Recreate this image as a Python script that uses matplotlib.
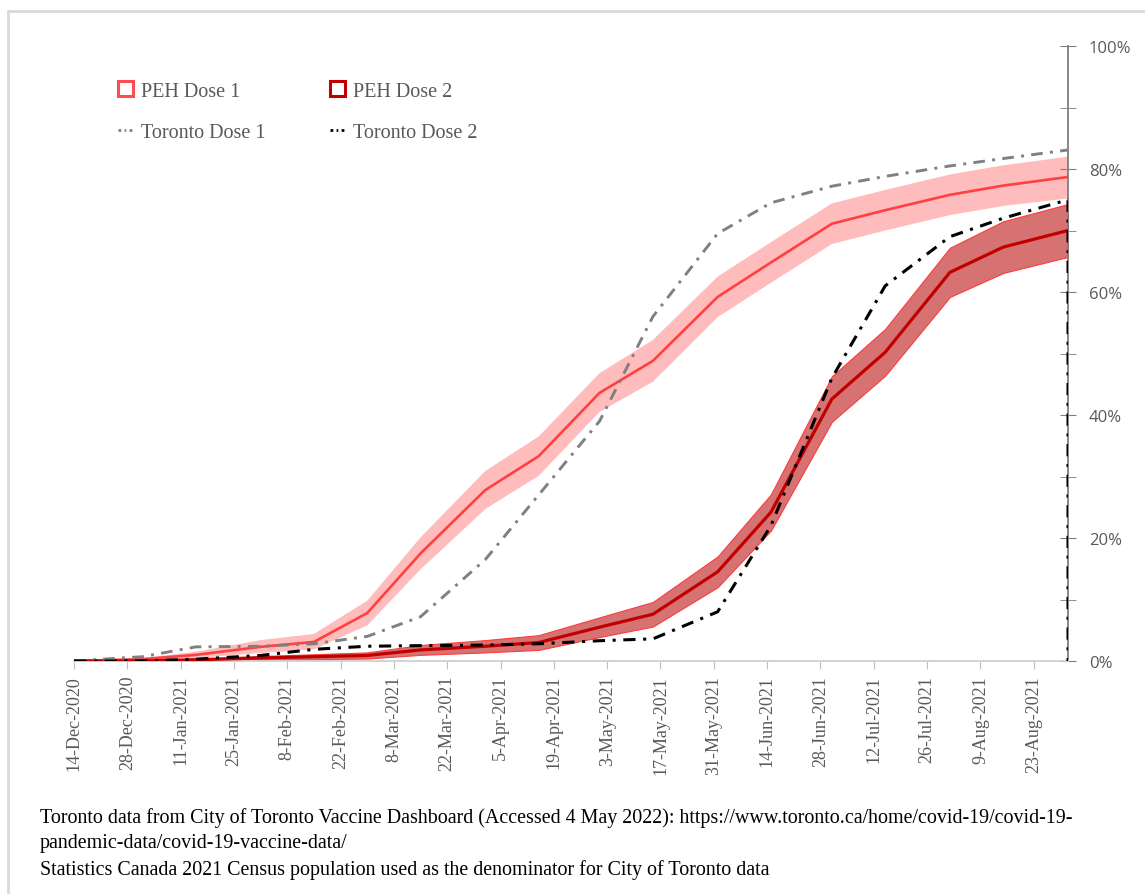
import matplotlib.pyplot as plt
import numpy as np
import pandas as pd
from matplotlib.patches import Patch, Rectangle
from matplotlib.lines import Line2D

# semi-monthly data points
dates = pd.to_datetime(['2020-12-14', '2021-01-01', '2021-01-15', '2021-02-01', '2021-02-15',
                        '2021-03-01', '2021-03-15', '2021-04-01', '2021-04-15', '2021-05-01',
                        '2021-05-15', '2021-06-01', '2021-06-15', '2021-07-01', '2021-07-15',
                        '2021-08-01', '2021-08-15', '2021-09-01'])

peh1 = [0, 0.3, 1.0, 2.3, 3.1, 7.8, 17.5, 27.8, 33.3, 43.6, 48.8, 59.2, 64.8, 71.1, 73.3, 75.8, 77.3, 78.7]
peh1_lo = [0, 0.1, 0.5, 1.3, 1.9, 5.8, 14.9, 24.7, 30.1, 40.5, 45.4, 55.9, 61.5, 67.8, 70.0, 72.5, 74.0, 75.2]
peh1_hi = [0, 0.5, 1.5, 3.4, 4.4, 9.8, 20.1, 30.9, 36.5, 46.8, 52.2, 62.5, 68.1, 74.4, 76.6, 79.1, 80.6, 82.0]

peh2 = [0, 0, 0.2, 0.5, 0.7, 0.9, 1.8, 2.4, 3.0, 5.5, 7.6, 14.5, 24.2, 42.6, 50.2, 63.2, 67.3, 70.0]
peh2_lo = [0, 0, 0, 0.2, 0.3, 0.4, 1.0, 1.4, 1.8, 3.9, 5.6, 12.0, 21.2, 38.9, 46.4, 59.2, 63.1, 65.7]
peh2_hi = [0, 0.1, 0.4, 0.8, 1.1, 1.4, 2.6, 3.4, 4.2, 7.1, 9.6, 17.0, 27.1, 46.3, 54.0, 67.2, 71.5, 74.3]

tor1 = [0, 0.7, 2.3, 2.4, 2.8, 4.0, 7.2, 16.5, 27.0, 39.0, 56.0, 69.5, 74.5, 77.2, 78.8, 80.5, 81.7, 83.1]
tor2 = [0, 0, 0.3, 0.9, 1.9, 2.4, 2.5, 2.6, 2.8, 3.3, 3.6, 8.0, 22.0, 46.0, 61.0, 69.0, 72.0, 75.0]

tick_dates = pd.date_range('2020-12-14', '2021-08-23', freq='14D')
tick_labels = [f"{d.day}-{d.strftime('%b-%Y')}" for d in tick_dates]

grey = '#595959'

fig = plt.figure(figsize=(11.45, 8.95), dpi=100)
ax = fig.add_axes([74 / 1145, 1 - 662 / 895, (1068 - 74) / 1145, (662 - 47) / 895])

ax.fill_between(dates, peh1_lo, peh1_hi, facecolor='#ffbcbc', edgecolor='none', zorder=1)
ax.plot(dates, peh1, color='#ff4040', linewidth=1.9, zorder=3)

ax.fill_between(dates, peh2_lo, peh2_hi, facecolor='#d77272', edgecolor='#ff3b3b', linewidth=0.8, zorder=2)
ax.plot(dates, peh2, color='#c00000', linewidth=2.3, zorder=4)

ax.plot(dates, tor1, color='#808080', linewidth=2.1, linestyle=(0, (4, 2.5, 1, 2.5)), zorder=5)
# Toronto dose 2 series ends with a drop to zero at the last date
ax.plot(list(dates) + [dates[-1]], tor2 + [0], color='black', linewidth=2.2,
        linestyle=(0, (4, 2.5, 1, 2.5)), zorder=5)

ax.set_xlim(dates[0], dates[-1])
ax.set_ylim(0, 100)

ax.set_xticks(tick_dates)
ax.set_xticklabels(tick_labels, rotation=90, family='Liberation Serif', fontsize=13, color=grey)
ax.tick_params(axis='x', direction='out', length=6, color='#bfbfbf', pad=4)

ax.yaxis.tick_right()
ax.set_yticks(np.arange(0, 101, 20))
ax.set_yticks(np.arange(10, 100, 20), minor=True)
ax.set_yticklabels([f'{v}%' for v in range(0, 101, 20)], family='Open Sans', fontsize=12, color=grey)
ax.tick_params(axis='y', which='both', direction='inout', length=12, color='#7f7f7f', pad=9)

for s in ['top', 'left']:
    ax.spines[s].set_visible(False)
ax.spines['right'].set_color('#7f7f7f')
ax.spines['right'].set_linewidth(1.3)
ax.spines['bottom'].set_color('#d0d0d0')
ax.spines['bottom'].set_linewidth(1.3)

handles = [Patch(facecolor='white', edgecolor='#ff4d4d', linewidth=2.2),
           Line2D([0], [0], color='#808080', linewidth=2, linestyle=(0, (1, 1.2, 0.6, 1.2))),
           Patch(facecolor='white', edgecolor='#c00000', linewidth=2.2),
           Line2D([0], [0], color='black', linewidth=2, linestyle=(0, (1, 1.2, 0.6, 1.2)))]
labels = ['PEH Dose 1', 'Toronto Dose 1', 'PEH Dose 2', 'Toronto Dose 2']
leg = fig.legend(handles, labels, ncol=2, loc='upper left', bbox_to_anchor=(100 / 1145, 1 - 64 / 895),
                 frameon=False, handlelength=0.75, handleheight=0.75, handletextpad=0.4,
                 columnspacing=3.2, labelspacing=1.1, prop={'family': 'Liberation Serif', 'size': 14.5})
for t in leg.get_texts():
    t.set_color(grey)

notes = ['Toronto data from City of Toronto Vaccine Dashboard (Accessed 4 May 2022): https://www.toronto.ca/home/covid-19/covid-19-',
         'pandemic-data/covid-19-vaccine-data/',
         'Statistics Canada 2021 Census population used as the denominator for City of Toronto data']
for i, line in enumerate(notes):
    fig.text(40 / 1145, 1 - (818 + 26 * i) / 895, line, family='Liberation Serif', fontsize=14.4,
             color='black', va='center', ha='left')

fig.patches.append(Rectangle((8 / 1145, -0.01), 1.05, 1 - 12 / 895 + 0.01, transform=fig.transFigure,
                             facecolor='none', edgecolor='#d9d9d9', linewidth=2))

fig.savefig('out.png', dpi=100)
